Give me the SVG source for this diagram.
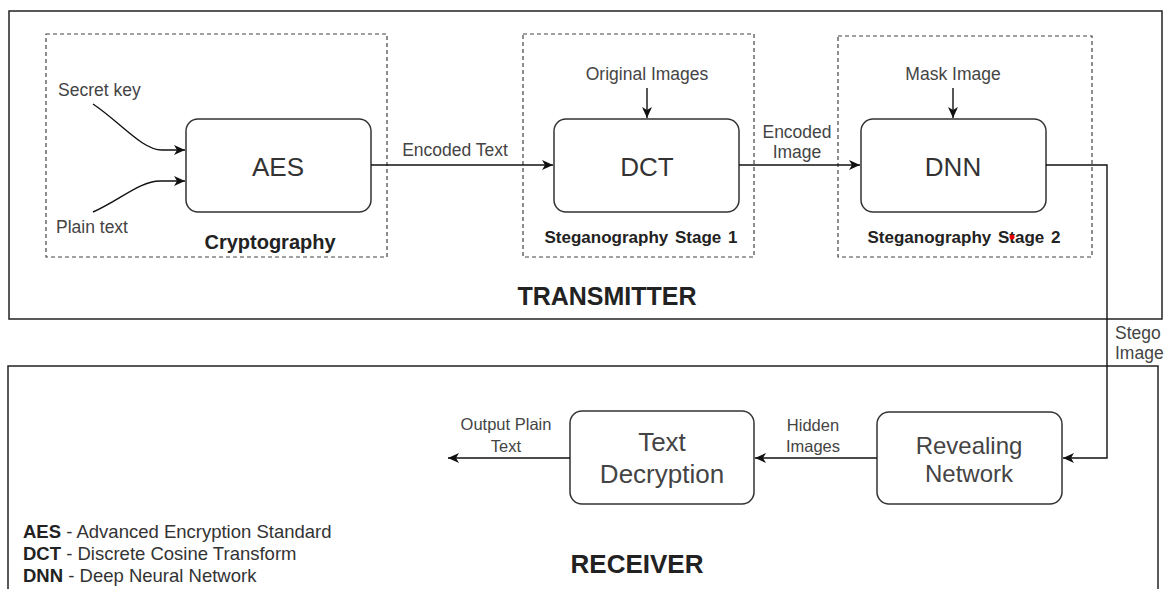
<svg xmlns="http://www.w3.org/2000/svg" width="1171" height="589" viewBox="0 0 1171 589">
<defs>
<style>
.frame{fill:none;stroke:#222;stroke-width:1.5}
.dash{fill:none;stroke:#444;stroke-width:1.2;stroke-dasharray:4 3}
.node{fill:#fff;stroke:#333;stroke-width:1.5}
.conn{fill:none;stroke:#111;stroke-width:1.4}
.t{font-family:"Liberation Sans",Arial,sans-serif;fill:#444}
.big{font-size:26px;fill:#333}
.lbl{font-size:17.5px}
.b{font-family:"Liberation Sans",Arial,sans-serif;font-weight:bold;fill:#222}
</style>
<marker id="arr" markerUnits="userSpaceOnUse" markerWidth="12" markerHeight="10" viewBox="0 0 12 10" refX="11" refY="5" orient="auto">
<path d="M0,0 L11,5 L0,10 L3,5 Z" fill="#111"/>
</marker>
</defs>
<rect width="1171" height="589" fill="#fff"/>

<g id="transmitter">
<rect class="frame" x="9" y="11" width="1153" height="308"/>
<text class="b" x="607" y="305" font-size="25" text-anchor="middle">TRANSMITTER</text>
</g>
<g id="receiver">
<rect class="frame" x="8" y="366" width="1150" height="240"/>
<text class="b" x="637" y="573" font-size="26" text-anchor="middle">RECEIVER</text>
</g>

<g id="cryptography">
<rect class="dash" x="46" y="34" width="341" height="223"/>
<text class="b" x="270" y="249" font-size="20" text-anchor="middle">Cryptography</text>
</g>
<g id="stage1">
<rect class="dash" x="523" y="34" width="231" height="223"/>
<text class="b" x="641" y="243" font-size="17" text-anchor="middle" word-spacing="2">Steganography Stage 1</text>
</g>
<g id="stage2">
<rect class="dash" x="838" y="36" width="254" height="221"/>
<text class="b" x="964" y="243" font-size="17" text-anchor="middle" word-spacing="2">Steganography Stage 2</text>
<circle cx="1012" cy="237" r="2.5" fill="#e00"/>
</g>

<g id="aes">
<rect class="node" x="186" y="119" width="185" height="93" rx="12"/>
<text class="t big" x="278" y="176" text-anchor="middle">AES</text>
</g>
<g id="dct">
<rect class="node" x="554" y="119" width="185" height="93" rx="12"/>
<text class="t big" x="647" y="176" text-anchor="middle">DCT</text>
</g>
<g id="dnn">
<rect class="node" x="861" y="119" width="185" height="93" rx="12"/>
<text class="t big" x="953" y="176" text-anchor="middle">DNN</text>
</g>
<g id="revealing">
<rect class="node" x="877" y="412" width="185" height="92" rx="12"/>
<text class="t" x="969" y="454" font-size="24" text-anchor="middle" fill="#333">Revealing</text>
<text class="t" x="969" y="482" font-size="24" text-anchor="middle" fill="#333">Network</text>
</g>
<g id="decryption">
<rect class="node" x="570" y="411" width="184" height="93" rx="12"/>
<text class="t" x="662" y="451" font-size="26" text-anchor="middle" fill="#333">Text</text>
<text class="t" x="662" y="483" font-size="26" text-anchor="middle" fill="#333">Decryption</text>
</g>

<g id="labels">
<text class="t lbl" x="58" y="96">Secret key</text>
<text class="t lbl" x="56" y="233">Plain text</text>
<text class="t lbl" x="647" y="80" text-anchor="middle">Original Images</text>
<text class="t lbl" x="953" y="80" text-anchor="middle">Mask Image</text>
<text class="t lbl" x="455" y="156" text-anchor="middle">Encoded Text</text>
<text class="t lbl" x="797" y="138" text-anchor="middle">Encoded</text>
<text class="t lbl" x="797" y="158" text-anchor="middle">Image</text>
<text class="t lbl" x="1115" y="339">Stego</text>
<text class="t lbl" x="1115" y="359">Image</text>
<text class="t" x="813" y="431" font-size="16.5" text-anchor="middle">Hidden</text>
<text class="t" x="813" y="452" font-size="16.5" text-anchor="middle">Images</text>
<text class="t" x="506" y="430" font-size="16.5" text-anchor="middle">Output Plain</text>
<text class="t" x="506" y="452" font-size="16.5" text-anchor="middle">Text</text>
</g>

<g id="legend" font-family="'Liberation Sans',Arial,sans-serif" font-size="18.5" fill="#333">
<text x="23" y="538"><tspan font-weight="bold" fill="#222">AES</tspan> - Advanced Encryption Standard</text>
<text x="23" y="560"><tspan font-weight="bold" fill="#222">DCT</tspan> - Discrete Cosine Transform</text>
<text x="23" y="582"><tspan font-weight="bold" fill="#222">DNN</tspan> - Deep Neural Network</text>
</g>

<g id="connectors">
<path class="conn" d="M93,104 C120,122 142,150 162,150 L185,150" marker-end="url(#arr)"/>
<path class="conn" d="M93,212 C120,200 140,181 160,181 L185,181" marker-end="url(#arr)"/>
<path class="conn" d="M647,88 L647,118" marker-end="url(#arr)"/>
<path class="conn" d="M953,88 L953,118" marker-end="url(#arr)"/>
<path class="conn" d="M371,165 L553,165" marker-end="url(#arr)"/>
<path class="conn" d="M739,165 L860,165" marker-end="url(#arr)"/>
<path class="conn" d="M1046,165 L1107,165 L1107,458 L1063,458" marker-end="url(#arr)"/>
<path class="conn" d="M877,458 L755,458" marker-end="url(#arr)"/>
<path class="conn" d="M570,458 L448,458" marker-end="url(#arr)"/>
</g>
</svg>
